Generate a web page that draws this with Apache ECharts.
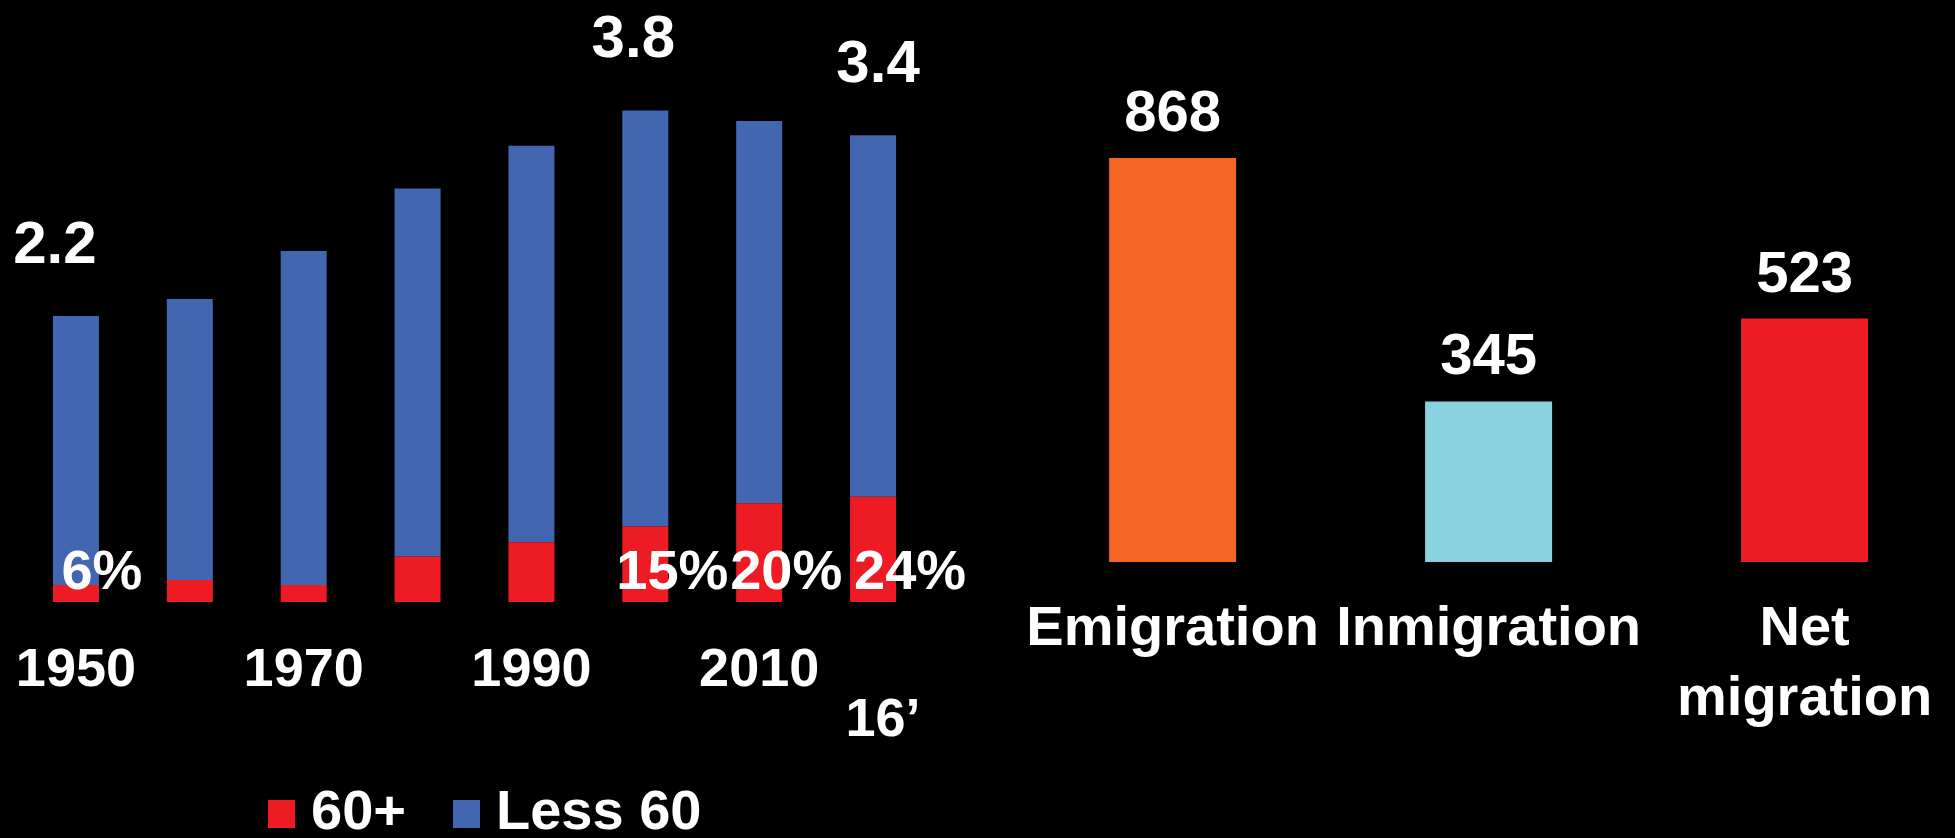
<!DOCTYPE html>
<html>
<head>
<meta charset="utf-8">
<script src="https://cdn.jsdelivr.net/npm/echarts@6/dist/echarts.min.js"></script>
<style>
html,body{margin:0;padding:0;background:#000;}
#chart{width:1955px;height:838px;}
</style>
</head>
<body>
<div id="chart"></div>
<script>
// Population (millions) by age group
const years = ['1950','1960','1970','1980','1990','2000','2010','16\u2019'];
const over60 = [0.13,0.17,0.13,0.35,0.46,0.58,0.76,0.81];
const under60 = [2.07,2.16,2.57,2.83,3.05,3.20,2.94,2.78];
const totalLabels = ['2.2','','','','','3.8','','3.4'];
const shareLabels = ['6%','','','','','15%','20%','24%'];
// Migration (thousands)
const flowCats = ['Emigration','Inmigration','Net migration'];
const flowValues = [868,345,523];

// styling (not data)
const flowColors = ['#F26522','#89D3E0','#ED1C24'];
const totalLabelShift = [-21,0,0,0,0,-12,0,5];
const shareLabelShift = [26,0,0,0,0,27,27,37];

const FONT = '"Liberation Sans", Arial, sans-serif';
const last = years.length - 1;
const chart = echarts.init(document.getElementById('chart'));
chart.setOption({
  backgroundColor: '#000',
  animation: false,
  textStyle: {fontFamily: FONT, fontWeight: 'bold', color: '#fff'},
  legend: {
    left: 268, top: 786, padding: 0,
    itemWidth: 27, itemHeight: 28, itemGap: 47,
    icon: 'rect',
    data: ['60+','Less 60'],
    textStyle: {color: '#fff', fontSize: 56, fontWeight: 'bold', fontFamily: FONT, padding: [0,0,0,11]}
  },
  grid: [
    {left: 19, width: 911, top: 82, height: 520},
    {left: 1172.6, width: 632, top: 96.6, height: 465.4}
  ],
  xAxis: [
    {
      type: 'category', gridIndex: 0,
      data: years.map((y, i) => i === last ? {value: y, textStyle: {padding: [0, 0, 0, 20]}} : y),
      axisLine: {show: false}, axisTick: {show: false}, splitLine: {show: false},
      axisLabel: {
        color: '#fff', fontSize: 54, fontWeight: 'bold', fontFamily: FONT,
        lineHeight: 50, margin: 44,
        interval: (i) => i % 2 === 0 || i === last,
        formatter: (v, i) => i === last ? '\n' + v : v
      }
    },
    {
      type: 'category', gridIndex: 1, data: flowCats, boundaryGap: false,
      axisLine: {show: false}, axisTick: {show: false}, splitLine: {show: false},
      axisLabel: {
        color: '#fff', fontSize: 56, fontWeight: 'bold', fontFamily: FONT,
        lineHeight: 70, margin: 33, interval: 0,
        formatter: (v) => v.indexOf(' ') > 0 ? v.replace(' ', '\n') : v
      }
    }
  ],
  yAxis: [
    {type: 'value', gridIndex: 0, min: 0, max: 4, show: false},
    {type: 'value', gridIndex: 1, min: 0, max: 1000, show: false}
  ],
  series: [
    {
      name: '60+', type: 'bar', stack: 'pop', xAxisIndex: 0, yAxisIndex: 0,
      barWidth: 46, z: 3,
      itemStyle: {color: '#ED1C24'},
      data: over60.map((v, i) => ({value: v, label: {offset: [shareLabelShift[i], 0]}})),
      label: {
        show: true, position: 'insideBottom', distance: 0,
        color: '#fff', fontSize: 56, fontWeight: 'bold', fontFamily: FONT, lineHeight: 56,
        formatter: (p) => shareLabels[p.dataIndex]
      }
    },
    {
      name: 'Less 60', type: 'bar', stack: 'pop', xAxisIndex: 0, yAxisIndex: 0,
      barWidth: 46,
      itemStyle: {color: '#4266B0'},
      data: under60.map((v, i) => ({value: v, label: {offset: [totalLabelShift[i], 0]}})),
      label: {
        show: true, position: 'top', distance: 40,
        color: '#fff', fontSize: 60, fontWeight: 'bold', fontFamily: FONT, lineHeight: 60,
        formatter: (p) => totalLabels[p.dataIndex]
      }
    },
    {
      name: 'Migration', type: 'bar', xAxisIndex: 1, yAxisIndex: 1,
      barWidth: 127,
      data: flowValues.map((v, i) => ({value: v, itemStyle: {color: flowColors[i]}})),
      label: {
        show: true, position: 'top', distance: 14,
        color: '#fff', fontSize: 58, fontWeight: 'bold', fontFamily: FONT, lineHeight: 58
      }
    }
  ]
});
</script>
</body>
</html>
